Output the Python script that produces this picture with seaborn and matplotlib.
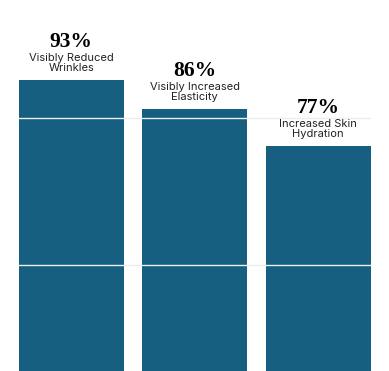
import pandas as pd
import seaborn as sns
import matplotlib.pyplot as plt

# Chart values
labels = ["Visibly Reduced\nWrinkles", "Visibly Increased\nElasticity", "Increased Skin\nHydration"]
values = [93, 86, 77]

df = pd.DataFrame({"label": labels, "value": values})

sns.set_style("white")
plt.rcParams['font.family'] = ['Inter', 'DejaVu Sans']

fig = plt.figure(figsize=(3.89, 3.71), dpi=100)
ax = fig.add_axes([18.5 / 389, 0, (371 - 18.5) / 389, 1])

sns.barplot(x="label", y="value", data=df, ax=ax, color="#165f80",
            saturation=1, width=0.854, linewidth=0, edgecolor="none", zorder=2)

ax.set_xlim(-0.427, 2.427)
ax.set_ylim(22.4, 112.4)
ax.set_yticks([48.2, 83.7])
ax.yaxis.grid(True, color="#eeeeee", linewidth=1.0, zorder=3)
ax.set_axisbelow(False)
ax.tick_params(left=False, bottom=False, labelleft=False, labelbottom=False)
ax.set_xlabel("")
ax.set_ylabel("")
for s in ax.spines.values():
    s.set_visible(False)

# Labels above bars
for i, (lab, val) in enumerate(zip(labels, values)):
    ax.annotate(f"{val}%", xy=(i, val), xytext=(0, 23.6), textcoords="offset points",
                ha="center", va="baseline", fontsize=15.5, fontweight="bold",
                family=["Liberation Serif", "DejaVu Serif"], color="black",
                annotation_clip=False)
    ax.annotate(lab, xy=(i, val), xytext=(0, 6.4), textcoords="offset points",
                ha="center", va="baseline", fontsize=8, linespacing=0.95,
                color="#222222", annotation_clip=False)

fig.savefig("out.png", dpi=100)
